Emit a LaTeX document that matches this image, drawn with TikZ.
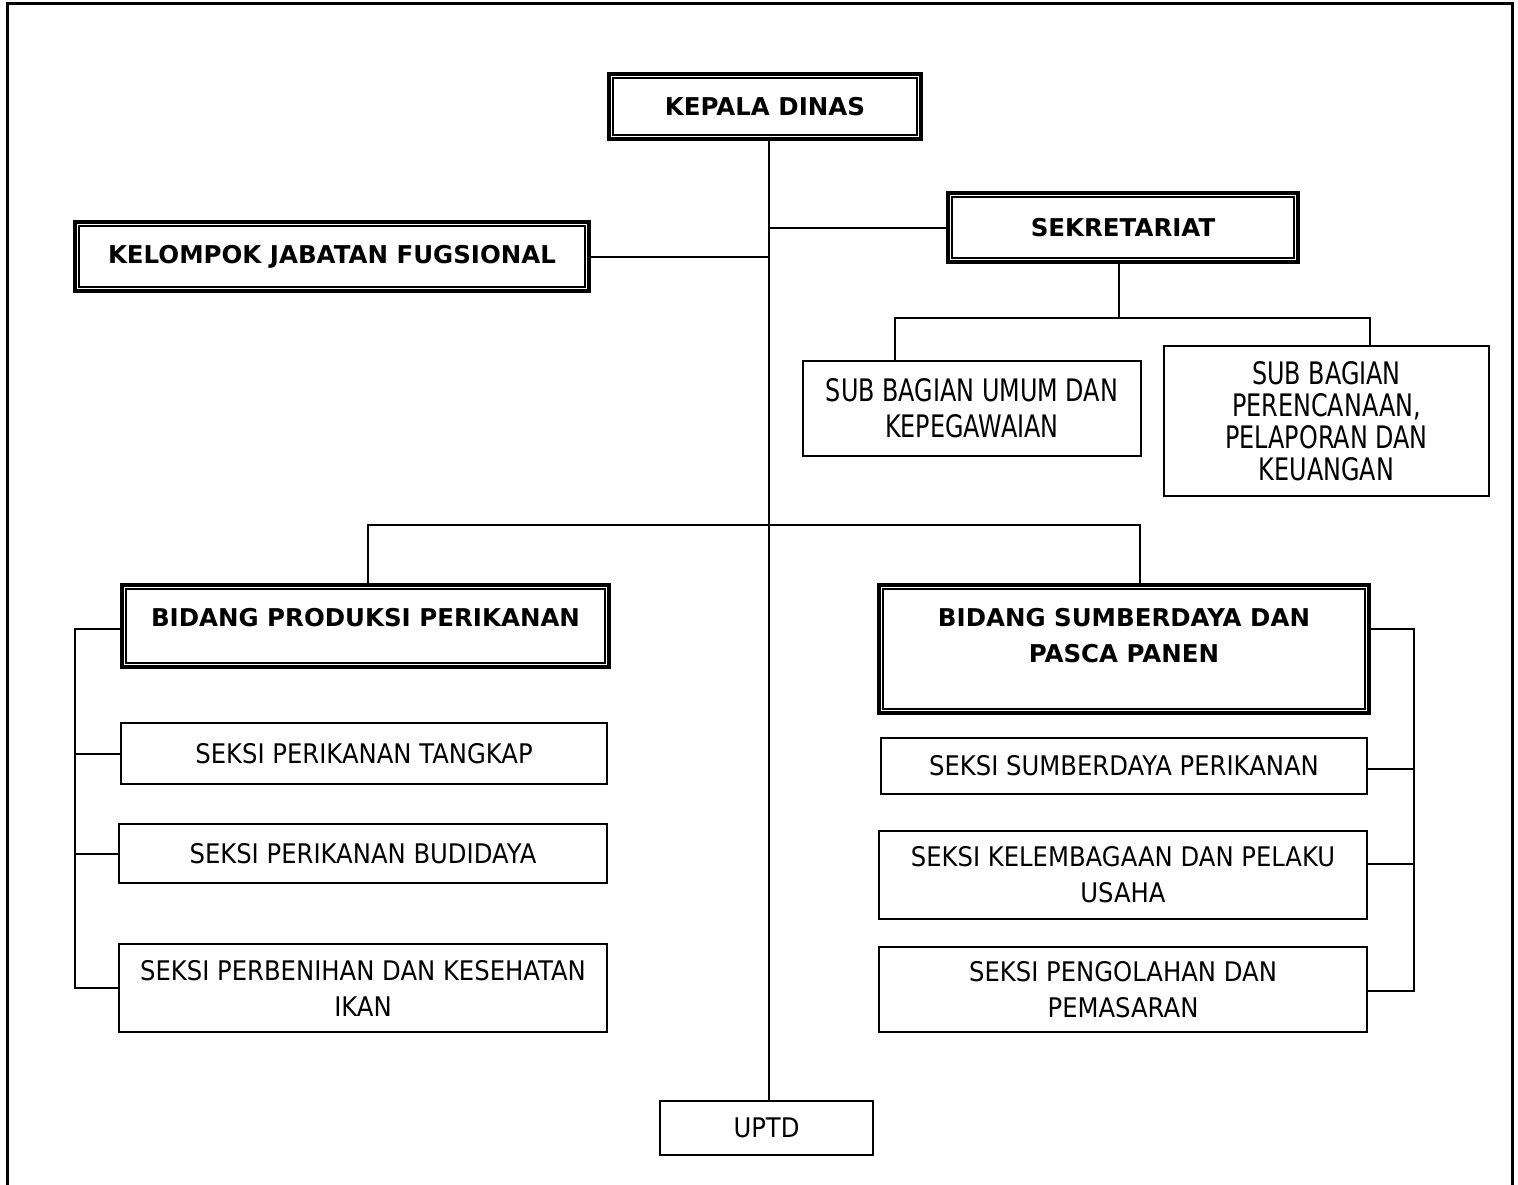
\documentclass[tikz,border=0pt]{standalone}
\usepackage{fontspec}
\setmainfont{DejaVu Sans}
\newfontfamily\regfont[FakeStretch=0.9]{DejaVu Sans}
\newfontfamily\narrowfont[FakeStretch=0.77]{DejaVu Sans}
\usepackage{tikz}
\tikzset{
  conn/.style={draw=black,line width=2pt},
  unit/.style={draw=black,line width=2pt,align=center,inner sep=4pt,
    font=\regfont\fontsize{27}{36}\selectfont},
  narrow/.style={unit,font=\narrowfont\fontsize{31}{36}\selectfont},
  head/.style={unit,line width=4pt,font=\fontsize{24.5}{36}\selectfont\bfseries,
    append after command={\pgfextra{\draw[line width=2pt]
      ([shift={(6pt,-6pt)}]\tikzlastnode.north west) rectangle
      ([shift={(-6pt,6pt)}]\tikzlastnode.south east);}}}
}

\begin{document}
\begin{tikzpicture}[x=1pt,y=-1pt]
  \useasboundingbox (0,0) rectangle (1518,1184);
  \draw[line width=3pt] (7,3) rectangle (1512,1200);

  % pimpinan dan staf
  \node[head,minimum width=312,minimum height=65] (kadis) at (765,106.5) {KEPALA DINAS};
  \node[head,minimum width=514,minimum height=69] (kjf) at (332,256.5) {KELOMPOK JABATAN FUGSIONAL};
  \node[head,minimum width=350,minimum height=69] (sek) at (1123,227.5) {SEKRETARIAT};
  \node[narrow,minimum width=338,minimum height=95] (subum) at (972,408.5)
    {SUB BAGIAN UMUM DAN\\KEPEGAWAIAN};
  \node[narrow,font=\narrowfont\fontsize{31}{32}\selectfont,minimum width=325,minimum height=150]
    (subren) at (1326.5,421) {SUB BAGIAN\\PERENCANAAN,\\PELAPORAN DAN\\KEUANGAN};

  % bidang
  \node[head,minimum width=487,minimum height=82] (bpp) at (365.5,626)
    {BIDANG PRODUKSI PERIKANAN\\[-18pt]\mbox{}};
  \node[head,minimum width=490,minimum height=128] (bsp) at (1124,649)
    {BIDANG SUMBERDAYA DAN\\PASCA PANEN\\[-8pt]\mbox{}};

  % seksi
  \node[unit,minimum width=486,minimum height=61] (tangkap) at (364,753.5) {SEKSI PERIKANAN TANGKAP};
  \node[unit,minimum width=488,minimum height=59] (budidaya) at (363,853.5) {SEKSI PERIKANAN BUDIDAYA};
  \node[unit,minimum width=488,minimum height=88] (benih) at (363,988)
    {SEKSI PERBENIHAN DAN KESEHATAN\\IKAN};
  \node[unit,minimum width=486,minimum height=56] (sdaya) at (1124,766) {SEKSI SUMBERDAYA PERIKANAN};
  \node[unit,minimum width=488,minimum height=88] (lembaga) at (1123,875)
    {SEKSI KELEMBAGAAN DAN PELAKU\\USAHA};
  \node[unit,minimum width=488,minimum height=85] (olah) at (1123,989.5)
    {SEKSI PENGOLAHAN DAN\\PEMASARAN};
  \node[unit,minimum width=213,minimum height=54] (uptd) at (766.5,1128) {UPTD};

  % titik bantu garis
  \coordinate (trunk) at (769,0);
  \coordinate (sb0) at (1119,318);
  \coordinate (sb1) at (895,318);
  \coordinate (sb2) at (1370,318);
  \coordinate (bb1) at (368,525);
  \coordinate (bb2) at (1140,525);
  \coordinate (lb) at (75,629);
  \coordinate (rb1) at (1414,629);
  \coordinate (rb2) at (1414,769);
  \coordinate (rb3) at (1414,864);
  \coordinate (rb4) at (1414,991);

  \draw[conn] (kadis.south -| trunk) -- (uptd.north -| trunk);
  \draw[conn] (kjf.east) -- (kjf.east -| trunk);
  \draw[conn] (sek.west) -- (sek.west -| trunk);
  \draw[conn] (sek.south -| sb0) -- (sb0);
  \draw[conn] (subum.north -| sb1) |- (sb2) -- (subren.north -| sb2);
  \draw[conn] (bpp.north -| bb1) |- (bb2) -- (bsp.north -| bb2);

  \draw[conn] (bpp.west |- lb) -- (lb) |- (benih.west);
  \draw[conn] (tangkap.west) -- (tangkap.west -| lb);
  \draw[conn] (budidaya.west) -- (budidaya.west -| lb);

  \draw[conn] (bsp.east |- rb1) -- (rb1) -- (rb4) -- (olah.east |- rb4);
  \draw[conn] (sdaya.east |- rb2) -- (rb2);
  \draw[conn] (lembaga.east |- rb3) -- (rb3);
\end{tikzpicture}
\end{document}
